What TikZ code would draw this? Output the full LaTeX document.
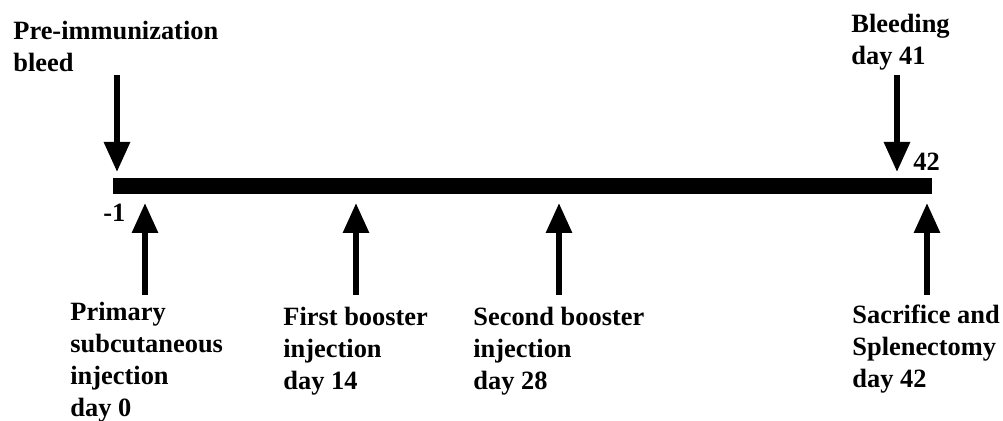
\documentclass[tikz,border=0pt]{standalone}
\usepackage{fontspec}
\setmainfont{Liberation Serif}
\usetikzlibrary{arrows.meta, positioning}

\begin{document}
\begin{tikzpicture}[x=0.5pt, y=-0.5pt, >={Triangle[length=15pt, width=12.5pt]},
  flecha/.style={->, line width=3pt},
  etiqueta/.style={align=left, inner sep=0pt, font=\fontsize{13.2}{16}\selectfont\bfseries}]
  \useasboundingbox (0,0) rectangle (1003,421);

  % Definir la linea de tiempo
  \coordinate (t0) at (113,186);
  \coordinate (t1) at (932,186);
  \draw[line width=8pt] (t0) -- (t1);
  \node[etiqueta, anchor=base west] (menos1) at (103,222) {-1};
  \node[etiqueta, anchor=base west] (d42) at (913,171) {42};

  % Definir las etiquetas (base = ultima linea)
  \node[etiqueta, anchor=base west] (pre) at (13,72) {Pre-immunization\\bleed};
  \node[etiqueta, anchor=base west] (bleed) at (851,65) {Bleeding\\day 41};
  \node[etiqueta, anchor=base west] (prim) at (70,417) {Primary\\subcutaneous\\injection\\day 0};
  \node[etiqueta, anchor=base west] (first) at (283,390) {First booster\\injection\\day 14};
  \node[etiqueta, anchor=base west] (second) at (473,390) {Second booster\\injection\\day 28};
  \node[etiqueta, anchor=base west] (sacr) at (852,388) {Sacrifice and\\Splenectomy\\day 42};

  % Dibujar las flechas
  \coordinate (pre0) at (117,75);  \coordinate (pre1) at (117,172);
  \coordinate (bl0) at (897,75);   \coordinate (bl1) at (897,172);
  \coordinate (pr0) at (145,295);  \coordinate (pr1) at (145,203);
  \coordinate (fi0) at (356,295);  \coordinate (fi1) at (356,203);
  \coordinate (se0) at (559,295);  \coordinate (se1) at (559,203);
  \coordinate (sa0) at (927,295);  \coordinate (sa1) at (927,203);
  \draw[flecha] (pre0) -- (pre1);
  \draw[flecha] (bl0) -- (bl1);
  \draw[flecha] (pr0) -- (pr1);
  \draw[flecha] (fi0) -- (fi1);
  \draw[flecha] (se0) -- (se1);
  \draw[flecha] (sa0) -- (sa1);
\end{tikzpicture}
\end{document}
